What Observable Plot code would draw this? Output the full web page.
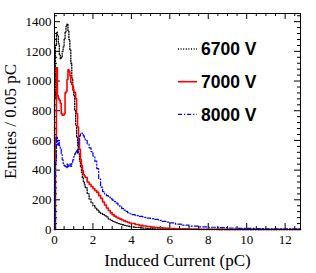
<!DOCTYPE html>
<html><head><meta charset="utf-8">
<script src="https://cdn.jsdelivr.net/npm/d3@7"></script>
<script src="https://cdn.jsdelivr.net/npm/@observablehq/plot@0.6"></script>
<style>body{margin:0;background:#fff} #chart{width:316px;height:273px}</style>
</head><body><div id="chart"></div>
<script>
// Bin lower edges (pC)
const xEdges = [0,0.05,0.1,0.15,0.2,0.25,0.3,0.35,0.4,0.45,0.5,0.55,0.6,0.65,0.7,0.75,0.8,0.85,0.9,0.95,
  1.0,1.05,1.1,1.15,1.2,1.25,1.3,1.35,1.4,1.45,1.5,1.55,1.6,
  1.7,1.8,1.9,2.0,2.1,2.2,2.3,2.4,2.5,2.6,2.7,2.8,2.9,3.0,3.1,3.2,3.3,3.4,3.5,3.6,3.7,3.8,3.9,4.0,
  4.2,4.4,4.6,4.8,5.0,5.2,5.4,5.6,5.8,6.0,
  6.3,6.6,7.0,7.5,8.0,8.5,9.0,9.5,10.0,10.5,11.0,11.5,12.0,12.5];
const xEnd = 12.8;
const v6700 = [880,1240,1330,1310,1250,1180,1150,1160,1200,1230,1280,1330,1370,1385,1340,1280,1210,1120,1020,960,
  900,800,700,620,560,510,460,420,385,350,320,300,280,
  240,205,180,160,145,130,118,108,100,92,85,70,62,55,50,45,40,36,32,28,25,22,20,17,
  14,12,9,7,5,4,3,3,2,2,
  1,1,1,0,0,0,0,0,0,0,0,0,0,0];
const v7000 = [0,620,1090,900,880,870,850,780,770,770,780,920,930,1010,1075,1065,1035,990,975,940,
  930,920,880,780,690,610,540,470,430,395,370,360,350,
  320,305,290,275,262,250,228,210,185,165,145,128,112,100,90,82,76,70,64,58,52,48,44,40,
  34,28,24,20,16,13,11,9,8,7,
  5,4,3,2,2,1,1,1,0,0,0,0,0,0];
const v8000 = [0,450,620,570,600,565,545,505,470,445,430,425,415,440,420,430,440,425,445,470,
  490,510,530,515,550,600,630,645,650,640,630,615,600,
  575,550,525,495,460,410,340,285,255,240,228,218,208,198,188,178,165,152,140,130,122,113,106,100,
  93,88,82,77,73,68,62,55,50,44,
  36,29,23,18,15,12,10,8,7,6,5,5,4,4];
const seriesNames = ["6700 V", "7000 V", "8000 V"];
const seriesColors = ["#000000", "#ff0000", "#0000ff"];
const seriesDash = ["1,1.6", "none", "4,2,1.2,2"];
const seriesWidth = [1.3, 1.6, 1.2];
const xTicks = [0, 2, 4, 6, 8, 10, 12];
const yTicks = [0, 200, 400, 600, 800, 1000, 1200, 1400];
const xTitle = "Induced Current (pC)";
const yTitle = "Entries / 0.05 pC";

const W = 316, H = 273, mL = 54, mR = 16, mT = 13, mB = 44;
const fH = H - mT - mB, fW = W - mL - mR;
const xMinor = d3.range(0, 12.8, 0.5).filter(d => !xTicks.includes(d));
const yMinor = d3.range(0, 1455, 40).filter(d => !yTicks.includes(d));

function hist(vals, name) {
  const pts = [{x: 0, y: 0, s: name}];
  xEdges.forEach((x, i) => pts.push({x, y: vals[i], s: name}));
  pts.push({x: xEnd, y: vals[vals.length - 1], s: name});
  return pts;
}
const allVals = [v6700, v7000, v8000];

const marks = [];
const tickStyle = {stroke: "#000", strokeWidth: 1};
marks.push(Plot.tickX(xTicks, {x: d => d, insetTop: fH - 6, ...tickStyle}));
marks.push(Plot.tickX(xTicks, {x: d => d, insetBottom: fH - 6, ...tickStyle}));
marks.push(Plot.tickX(xMinor, {x: d => d, insetTop: fH - 3, ...tickStyle}));
marks.push(Plot.tickX(xMinor, {x: d => d, insetBottom: fH - 3, ...tickStyle}));
marks.push(Plot.tickY(yTicks, {y: d => d, insetRight: fW - 6, ...tickStyle}));
marks.push(Plot.tickY(yTicks, {y: d => d, insetLeft: fW - 6, ...tickStyle}));
marks.push(Plot.tickY(yMinor, {y: d => d, insetRight: fW - 3, ...tickStyle}));
marks.push(Plot.tickY(yMinor, {y: d => d, insetLeft: fW - 3, ...tickStyle}));

allVals.forEach((vals, i) => {
  marks.push(Plot.line(hist(vals, seriesNames[i]), {
    x: "x", y: "y", curve: "step-after",
    stroke: seriesColors[i], strokeWidth: seriesWidth[i],
    strokeDasharray: seriesDash[i] === "none" ? null : seriesDash[i]
  }));
});

marks.push(Plot.frame({stroke: "#000", strokeWidth: 1}));
marks.push(Plot.axisX(xTicks, {tickSize: 0, tickPadding: 5, tickFormat: d => String(d), fontSize: 13, fill: "#000", label: null}));
marks.push(Plot.axisY(yTicks, {tickSize: 0, tickPadding: 3, tickFormat: d => String(d), fontSize: 13, fill: "#000", label: null}));
marks.push(Plot.text([xTitle], {text: d => d, frameAnchor: "bottom", dy: 31, fontSize: 17, fill: "#000", lineAnchor: "middle", textAnchor: "middle"}));
marks.push(Plot.text([yTitle], {text: d => d, frameAnchor: "left", dx: -44, dy: 0, rotate: -90, fontSize: 17, fill: "#000", lineAnchor: "middle", textAnchor: "middle"}));

const plot = Plot.plot({
  width: W, height: H,
  marginLeft: mL, marginRight: mR, marginTop: mT, marginBottom: mB,
  style: {fontFamily: "'Liberation Serif', 'Times New Roman', serif", background: "#fff", color: "#000"},
  x: {domain: [0, 12.8], axis: null},
  y: {domain: [0, 1455], axis: null},
  marks
});

// legend
const svg = d3.select(plot);
const lg = svg.append("g").attr("text-anchor", "start");
seriesNames.forEach((name, i) => {
  const cy = 49 + i * 32.7;
  lg.append("line").attr("x1", 178).attr("x2", 197).attr("y1", cy).attr("y2", cy)
    .attr("stroke", seriesColors[i]).attr("stroke-width", seriesWidth[i])
    .attr("stroke-dasharray", seriesDash[i]);
  lg.append("text").attr("x", 201).attr("y", cy + 6.2).text(name)
    .attr("text-anchor", "start")
    .attr("font-family", "'Liberation Sans', Arial, sans-serif").attr("font-weight", "bold")
    .attr("font-size", 17.5).attr("fill", "#000");
});
document.getElementById("chart").appendChild(plot);
</script>
</body></html>
